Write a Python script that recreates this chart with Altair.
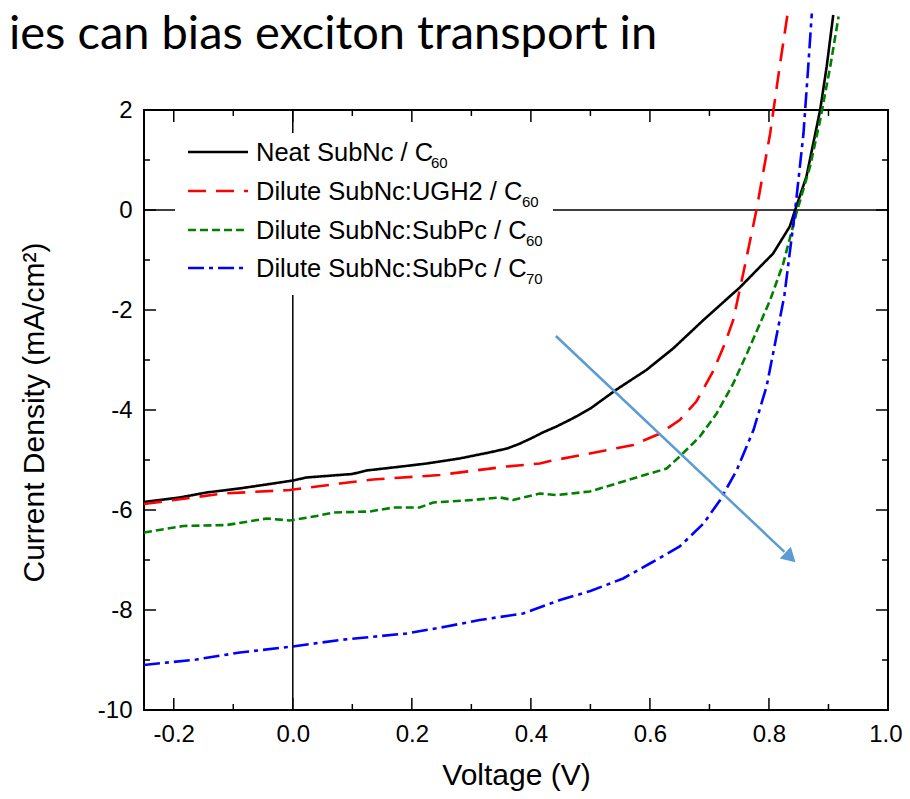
import altair as alt
import pandas as pd
import numpy as np

# ---------------- data ----------------
neat_v = [-0.25, -0.19, -0.145, -0.09, -0.033, 0.0, 0.023, 0.10, 0.124, 0.19, 0.225, 0.28,
          0.33, 0.36, 0.38, 0.40, 0.42, 0.443, 0.47, 0.50, 0.544, 0.594, 0.639, 0.69,
          0.734, 0.751, 0.774, 0.807, 0.835, 0.844, 0.863, 0.886, 0.897, 0.908]
neat_j = [-5.84, -5.75, -5.65, -5.57, -5.47, -5.41, -5.35, -5.28, -5.21, -5.12, -5.07, -4.97,
          -4.85, -4.77, -4.68, -4.57, -4.45, -4.33, -4.17, -3.97, -3.59, -3.20, -2.77, -2.20,
          -1.73, -1.55, -1.27, -0.87, -0.33, 0.0, 0.67, 2.0, 2.87, 3.9]

ugh2_v = [-0.25, -0.20, -0.117, -0.005, 0.079, 0.135, 0.247, 0.359, 0.415, 0.432, 0.499,
          0.572, 0.617, 0.65, 0.678, 0.706, 0.726, 0.74, 0.758, 0.779, 0.802, 0.818, 0.831]
ugh2_j = [-5.88, -5.80, -5.67, -5.60, -5.47, -5.39, -5.30, -5.13, -5.07, -5.02, -4.87,
          -4.70, -4.47, -4.20, -3.83, -3.23, -2.67, -2.20, -1.20, 0.0, 1.53, 2.87, 3.9]

subpc60_v = [-0.25, -0.184, -0.111, -0.044, -0.005, 0.04, 0.068, 0.129, 0.169, 0.213, 0.236,
             0.303, 0.348, 0.37, 0.415, 0.443, 0.499, 0.544, 0.583, 0.628, 0.65, 0.684,
             0.712, 0.74, 0.763, 0.785, 0.802, 0.824, 0.846, 0.869, 0.886, 0.903, 0.917]
subpc60_j = [-6.45, -6.32, -6.30, -6.17, -6.21, -6.12, -6.05, -6.03, -5.95, -5.95, -5.85,
             -5.80, -5.75, -5.80, -5.67, -5.70, -5.63, -5.47, -5.33, -5.17, -4.93, -4.53,
             -4.07, -3.47, -2.87, -2.27, -1.80, -1.07, -0.07, 0.87, 1.80, 2.87, 3.87]

subpc70_v = [-0.25, -0.162, -0.089, 0.0, 0.079, 0.191, 0.258, 0.314, 0.387, 0.449, 0.50,
             0.555, 0.60, 0.65, 0.69, 0.718, 0.746, 0.774, 0.796, 0.818, 0.826, 0.844,
             0.858, 0.866, 0.872]
subpc70_j = [-9.10, -8.99, -8.85, -8.73, -8.60, -8.47, -8.33, -8.20, -8.07, -7.80, -7.62,
             -7.37, -7.07, -6.73, -6.27, -5.80, -5.20, -4.40, -3.53, -2.20, -1.70, 0.0,
             1.53, 2.87, 3.93]

series_names = ["Neat SubNc / C", "Dilute SubNc:UGH2 / C", "Dilute SubNc:SubPc / C",
                "Dilute SubNc:SubPc / C"]
series_subs = ["60", "60", "60", "70"]
series_colors = ["#000000", "#ff0000", "#008000", "#0000ff"]
series_dash = [[1, 0], [18, 10], [8, 4], [16, 5, 4, 5]]
series_v = [neat_v, ugh2_v, subpc60_v, subpc70_v]
series_j = [neat_j, ugh2_j, subpc60_j, subpc70_j]

x_major = [-0.2, 0.0, 0.2, 0.4, 0.6, 0.8, 1.0]
x_minor = [-0.1, 0.1, 0.3, 0.5, 0.7, 0.9]
y_major = [-10, -8, -6, -4, -2, 0, 2]
y_minor = [-9, -7, -5, -3, -1, 1]

arrow_v = [0.442, 0.844]
arrow_j = [-2.52, -7.04]

slide_text = "ies can bias exciton transport in"

# ---------------- layout ----------------
W, H = 744, 600
FONT = "Liberation Sans"
xs = alt.Scale(domain=[-0.25, 1.0], nice=False, zero=False)
ys = alt.Scale(domain=[-10, 2], nice=False, zero=False)

xaxis = alt.Axis(values=x_major, ticks=False, domain=False, grid=False,
                 labelExpr="(datum.value < 0 ? '-' : '') + format(abs(datum.value), '.1f')",
                 labelFont=FONT, labelFontSize=24, labelColor="black", labelPadding=12,
                 labelFlush=1, labelFlushOffset=14, labelOverlap=False,
                 title="Voltage (V)", titleFont=FONT, titleFontSize=30,
                 titleFontWeight="normal", titleColor="black",
                 titleX=W / 2, titleY=74, titleAlign="center", titleBaseline="alphabetic")
yaxis = alt.Axis(values=y_major, ticks=False, domain=False, grid=False,
                 labelExpr="(datum.value < 0 ? '-' : '') + format(abs(datum.value), 'd')",
                 labelFont=FONT, labelFontSize=24, labelColor="black", labelPadding=12,
                 labelFlush=False, labelOverlap=False,
                 title="Current Density (mA/cm²)", titleFont=FONT, titleFontSize=30,
                 titleFontWeight="normal", titleColor="black", titleAngle=270,
                 titleX=-101, titleY=302, titleAlign="center", titleBaseline="alphabetic")

one = pd.DataFrame({"a": [0]})
layers = []

# zero lines
layers.append(alt.Chart(pd.DataFrame({"J": [0]})).mark_rule(color="black", strokeWidth=1.5)
              .encode(y=alt.Y("J:Q", scale=ys, axis=yaxis)))
layers.append(alt.Chart(pd.DataFrame({"V": [0]})).mark_rule(color="black", strokeWidth=1.5)
              .encode(x=alt.X("V:Q", scale=xs, axis=xaxis)))

# legend background
layers.append(alt.Chart(one).mark_rect(color="white").encode(
    x=alt.value(31), x2=alt.value(409), y=alt.value(23), y2=alt.value(185)))

# curves
for name, sub, col, dash, vv, jj in zip(series_names, series_subs, series_colors,
                                        series_dash, series_v, series_j):
    df = pd.DataFrame({"V": vv, "J": jj, "o": range(len(vv))})
    layers.append(alt.Chart(df).mark_line(color=col, strokeWidth=2.6, strokeDash=dash,
                                          clip=False)
                  .encode(x=alt.X("V:Q", scale=xs, axis=xaxis),
                          y=alt.Y("J:Q", scale=ys, axis=yaxis),
                          order="o:Q"))

# arrow
av = np.array(arrow_v)
aj = np.array(arrow_j)
line_end_v = av[0] + (av[1] - av[0]) * 0.955
line_end_j = aj[0] + (aj[1] - aj[0]) * 0.955
head_v = av[0] + (av[1] - av[0]) * 0.973
head_j = aj[0] + (aj[1] - aj[0]) * 0.973
arrow_df = pd.DataFrame({"V": [av[0]], "J": [aj[0]], "V2": [line_end_v], "J2": [line_end_j]})
layers.append(alt.Chart(arrow_df).mark_rule(color="#5b9bd5", strokeWidth=2.5)
              .encode(x=alt.X("V:Q", scale=xs, axis=xaxis), y=alt.Y("J:Q", scale=ys, axis=yaxis),
                      x2="V2:Q", y2="J2:Q"))
layers.append(alt.Chart(pd.DataFrame({"V": [head_v], "J": [head_j]}))
              .mark_point(shape="triangle", filled=True, color="#5b9bd5", opacity=1,
                          size=260, angle=133.4)
              .encode(x=alt.X("V:Q", scale=xs, axis=xaxis), y=alt.Y("J:Q", scale=ys, axis=yaxis)))

# legend entries
row_y = [42, 81, 120, 158]
sub_x = [287, 378, 382, 382]
for name, sub, col, dash, ry, sx in zip(series_names, series_subs, series_colors,
                                        series_dash, row_y, sub_x):
    layers.append(alt.Chart(one).mark_rule(color=col, strokeWidth=2.6, strokeDash=dash)
                  .encode(x=alt.value(44), x2=alt.value(104), y=alt.value(ry)))
    layers.append(alt.Chart(one).mark_text(text=name, font=FONT, fontSize=25.5, color="black",
                                           align="left", baseline="alphabetic")
                  .encode(x=alt.value(112), y=alt.value(ry + 9)))
    layers.append(alt.Chart(one).mark_text(text=sub, font=FONT, fontSize=15, color="black",
                                           align="left", baseline="alphabetic")
                  .encode(x=alt.value(sx), y=alt.value(ry + 16)))

# inward ticks on all four sides
for vals, ln in [(x_major, 12), (x_minor, 6)]:
    d = pd.DataFrame({"V": vals})
    layers.append(alt.Chart(d).mark_rule(color="black", strokeWidth=1.5)
                  .encode(x=alt.X("V:Q", scale=xs, axis=xaxis), y=alt.value(H), y2=alt.value(H - ln)))
    layers.append(alt.Chart(d).mark_rule(color="black", strokeWidth=1.5)
                  .encode(x=alt.X("V:Q", scale=xs, axis=xaxis), y=alt.value(0), y2=alt.value(ln)))
for vals, ln in [(y_major, 12), (y_minor, 6)]:
    d = pd.DataFrame({"J": vals})
    layers.append(alt.Chart(d).mark_rule(color="black", strokeWidth=1.5)
                  .encode(y=alt.Y("J:Q", scale=ys, axis=yaxis), x=alt.value(0), x2=alt.value(ln)))
    layers.append(alt.Chart(d).mark_rule(color="black", strokeWidth=1.5)
                  .encode(y=alt.Y("J:Q", scale=ys, axis=yaxis), x=alt.value(W), x2=alt.value(W - ln)))

# slide heading fragment above the chart
layers.append(alt.Chart(one).mark_text(text=slide_text, font="Lato", fontSize=47, color="black",
                                       align="left", baseline="alphabetic")
              .encode(x=alt.value(-135), y=alt.value(-61)))

chart = alt.layer(*layers).properties(
    width=W, height=H,
    autosize=alt.AutoSizeParams(type="none"),
    padding={"left": 136, "top": 102, "right": 14, "bottom": 81},
).configure_view(stroke="black", strokeWidth=2)

chart.save("out.html", embed_options={"renderer": "svg", "actions": False})
